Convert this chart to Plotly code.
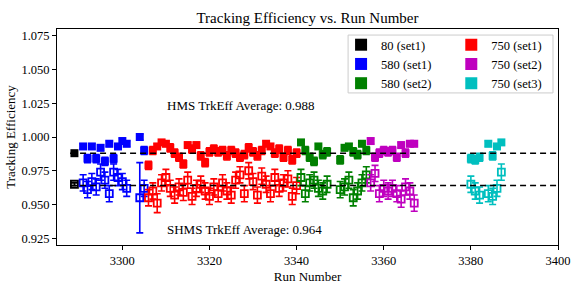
import plotly.graph_objects as go

# ---------------- data ----------------
x_range = [3285, 3400]
y_range = [0.92, 1.08]
x_ticks = [3300, 3320, 3340, 3360, 3380, 3400]
y_ticks = [0.925, 0.950, 0.975, 1.000, 1.025, 1.050, 1.075]

hms_avg = 0.988
shms_avg = 0.964
avg_line_start = 3288

# 80 (set1)
runs_80_1 = [3289]
hms_80_1 = [0.988]
hms_err_80_1 = [0.001]
shms_80_1 = [0.965]
shms_err_80_1 = [0.001]

# 580 (set1)
runs_580_1 = [3291, 3292, 3293, 3294, 3295, 3296, 3297, 3298, 3299, 3300, 3301, 3304, 3305]
hms_580_1 = [0.993, 0.984, 0.993, 0.984, 0.992, 0.982, 0.995, 0.984, 0.993, 0.997, 0.995, 1.000, 0.990]
hms_err_580_1 = [0.002, 0.003, 0.002, 0.003, 0.002, 0.003, 0.002, 0.003, 0.002, 0.002, 0.002, 0.002, 0.003]
shms_580_1 = [0.966, 0.961, 0.967, 0.963, 0.974, 0.968, 0.958, 0.974, 0.970, 0.967, 0.962, 0.955, 0.962]
shms_err_580_1 = [0.006, 0.006, 0.006, 0.006, 0.006, 0.006, 0.006, 0.006, 0.006, 0.006, 0.006, 0.026, 0.006]

# 580 (set2)
runs_580_2 = [3341, 3342, 3343, 3344, 3345, 3346, 3347, 3350, 3351, 3352, 3353, 3354, 3355, 3356]
hms_580_2 = [0.996, 0.990, 0.985, 0.982, 0.993, 0.987, 0.989, 0.983, 0.992, 0.993, 0.989, 0.987, 0.995, 0.990]
hms_err_580_2 = [0.002, 0.003, 0.003, 0.003, 0.002, 0.003, 0.003, 0.003, 0.002, 0.002, 0.003, 0.003, 0.002, 0.003]
shms_580_2 = [0.970, 0.958, 0.966, 0.968, 0.962, 0.960, 0.965, 0.961, 0.963, 0.968, 0.955, 0.960, 0.966, 0.972]
shms_err_580_2 = [0.006, 0.006, 0.006, 0.006, 0.006, 0.006, 0.006, 0.006, 0.006, 0.006, 0.006, 0.006, 0.006, 0.006]

# 750 (set1)
runs_750_1 = list(range(3306, 3341))
hms_750_1 = [0.979, 0.990, 0.993, 0.996, 0.995, 0.992, 0.988, 0.985, 0.980, 0.994,
             0.991, 0.994, 0.986, 0.981, 0.989, 0.991, 0.989, 0.990, 0.986, 0.990,
             0.988, 0.985, 0.987, 0.992, 0.989, 0.986, 0.990, 0.995, 0.993, 0.988,
             0.991, 0.985, 0.990, 0.983, 0.988]
hms_err_750_1 = [0.003, 0.003, 0.002, 0.002, 0.002, 0.003, 0.003, 0.003, 0.003, 0.002,
                 0.003, 0.002, 0.003, 0.003, 0.003, 0.003, 0.003, 0.003, 0.003, 0.003,
                 0.003, 0.003, 0.003, 0.003, 0.003, 0.003, 0.003, 0.002, 0.002, 0.003,
                 0.003, 0.003, 0.003, 0.003, 0.003]
shms_750_1 = [0.955, 0.960, 0.951, 0.966, 0.970, 0.962, 0.957, 0.963, 0.959, 0.968,
              0.956, 0.962, 0.965, 0.960, 0.956, 0.963, 0.958, 0.966, 0.960, 0.957,
              0.968, 0.972, 0.958, 0.975, 0.967, 0.957, 0.971, 0.965, 0.958, 0.970,
              0.962, 0.966, 0.969, 0.956, 0.964]
shms_err_750_1 = [0.006, 0.006, 0.007, 0.006, 0.006, 0.006, 0.006, 0.006, 0.006, 0.006,
                  0.006, 0.006, 0.006, 0.006, 0.006, 0.006, 0.006, 0.006, 0.006, 0.006,
                  0.006, 0.006, 0.006, 0.006, 0.006, 0.006, 0.006, 0.006, 0.006, 0.006,
                  0.006, 0.006, 0.006, 0.006, 0.006]

# 750 (set2)
runs_750_2 = [3357, 3358, 3359, 3360, 3361, 3362, 3363, 3364, 3365, 3366, 3367]
hms_750_2 = [0.997, 0.985, 0.988, 0.990, 0.989, 0.990, 0.985, 0.994, 0.988, 0.995, 0.995]
hms_err_750_2 = [0.002, 0.003, 0.003, 0.003, 0.003, 0.003, 0.003, 0.002, 0.003, 0.002, 0.002]
shms_750_2 = [0.966, 0.973, 0.958, 0.962, 0.960, 0.962, 0.958, 0.954, 0.963, 0.960, 0.951]
shms_err_750_2 = [0.006, 0.006, 0.006, 0.006, 0.006, 0.006, 0.006, 0.006, 0.006, 0.006, 0.006]

# 750 (set3)
runs_750_3 = [3380, 3381, 3382, 3384, 3385, 3386, 3387]
hms_750_3 = [0.984, 0.983, 0.985, 0.995, 0.986, 0.993, 0.996]
hms_err_750_3 = [0.003, 0.003, 0.003, 0.002, 0.003, 0.002, 0.002]
shms_750_3 = [0.965, 0.960, 0.957, 0.958, 0.956, 0.962, 0.974]
shms_err_750_3 = [0.006, 0.006, 0.006, 0.006, 0.006, 0.006, 0.006]

series = [
    ("80 (set1)", "#000000", runs_80_1, hms_80_1, hms_err_80_1, shms_80_1, shms_err_80_1, "legend"),
    ("580 (set1)", "#0000ff", runs_580_1, hms_580_1, hms_err_580_1, shms_580_1, shms_err_580_1, "legend"),
    ("750 (set1)", "#ff0000", runs_750_1, hms_750_1, hms_err_750_1, shms_750_1, shms_err_750_1, "legend2"),
    ("580 (set2)", "#008000", runs_580_2, hms_580_2, hms_err_580_2, shms_580_2, shms_err_580_2, "legend"),
    ("750 (set2)", "#bf00bf", runs_750_2, hms_750_2, hms_err_750_2, shms_750_2, shms_err_750_2, "legend2"),
    ("750 (set3)", "#00bfbf", runs_750_3, hms_750_3, hms_err_750_3, shms_750_3, shms_err_750_3, "legend2"),
]
legend_order = ["80 (set1)", "580 (set1)", "580 (set2)", "750 (set1)", "750 (set2)", "750 (set3)"]

FONT = "Liberation Serif"

fig = go.Figure()
for name, color, runs, hms, hms_err, shms, shms_err, leg in series:
    rank = legend_order.index(name)
    fig.add_trace(go.Scatter(
        x=runs, y=hms, mode="markers", name=name, legend=leg, legendrank=rank,
        marker=dict(symbol="square", size=8, color=color, line=dict(width=0)),
        error_y=dict(type="data", array=hms_err, color=color, thickness=1.6, width=3.5),
    ))
    fig.add_trace(go.Scatter(
        x=runs, y=shms, mode="markers", name=name, showlegend=False,
        marker=dict(symbol="square-open", size=7, color=color, line=dict(width=1.8, color=color)),
        error_y=dict(type="data", array=shms_err, color=color, thickness=1.6, width=3.5),
    ))

for avg in (hms_avg, shms_avg):
    fig.add_trace(go.Scatter(
        x=[avg_line_start, x_range[1]], y=[avg, avg], mode="lines", showlegend=False,
        line=dict(color="black", width=1.5, dash="6px,4px"), hoverinfo="skip",
    ))

fig.add_annotation(x=3309.7, y=1.023, xref="x", yref="y", xanchor="left", yanchor="middle",
                   text=f"HMS TrkEff Average: {hms_avg:.3f}", showarrow=False,
                   font=dict(family=FONT, size=13, color="black"))
fig.add_annotation(x=3309.7, y=0.9315, xref="x", yref="y", xanchor="left", yanchor="middle",
                   text=f"SHMS TrkEff Average: {shms_avg:.3f}", showarrow=False,
                   font=dict(family=FONT, size=13, color="black"))

# legend frame
fig.add_shape(type="rect", xref="paper", yref="paper", x0=0.581, x1=0.990, y0=0.704, y1=0.972,
              line=dict(color="#cccccc", width=1), fillcolor="rgba(255,255,255,0.8)", layer="above")

leg_common = dict(bgcolor="rgba(0,0,0,0)", borderwidth=0, font=dict(family=FONT, size=12.5, color="black"),
                  xanchor="left", yanchor="top", tracegroupgap=0, itemwidth=30, itemsizing="constant")
fig.update_layout(
    width=584, height=292,
    margin=dict(l=57, r=26, t=29, b=47, autoexpand=False),
    paper_bgcolor="white", plot_bgcolor="white",
    title=dict(text="Tracking Efficiency vs. Run Number", x=0.5, xanchor="center", y=0.938, yanchor="middle",
               xref="paper", font=dict(family=FONT, size=15, color="black")),
    font=dict(family=FONT, size=12.5, color="black"),
    legend=dict(x=0.567, y=0.995, **leg_common),
    legend2=dict(x=0.787, y=0.995, **leg_common),
    xaxis=dict(range=x_range, tickvals=x_ticks, ticktext=[str(t) for t in x_ticks], automargin=False,
               showgrid=False, zeroline=False, showline=True, linecolor="black", linewidth=1,
               mirror=True, ticks="outside", ticklen=4, tickcolor="black",
               tickfont=dict(family=FONT, size=12.5),
               title=dict(text="Run Number", font=dict(family=FONT, size=13), standoff=4)),
    yaxis=dict(range=y_range, tickvals=y_ticks, ticktext=[f"{t:.3f}" for t in y_ticks], automargin=False,
               showgrid=False, zeroline=False, showline=True, linecolor="black", linewidth=1,
               mirror=True, ticks="outside", ticklen=4, tickcolor="black",
               tickfont=dict(family=FONT, size=12.5),
               title=dict(text="Tracking Efficiency", font=dict(family=FONT, size=13), standoff=2)),
)

fig.write_html("out.html", config={"displayModeBar": False},
               post_script="document.body.style.margin='0';document.body.style.padding='0';")
